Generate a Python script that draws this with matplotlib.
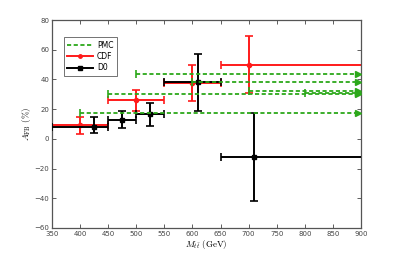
import matplotlib
matplotlib.use("Agg")
import matplotlib.pyplot as plt
from matplotlib.lines import Line2D

# CDF data
cdf_x = [400, 500, 600, 700]
cdf_y = [9.3, 26.0, 37.5, 50.0]
cdf_yerr_lo = [5.8, 7.0, 12.0, 19.4]
cdf_yerr_hi = [5.2, 7.0, 12.0, 19.4]
cdf_xlo = [50, 50, 50, 50]
cdf_xhi = [50, 50, 50, 250]

# D0 data
d0_x = [425, 475, 525, 610, 710]
d0_y = [8.2, 13.0, 16.6, 38.0, -12.3]
d0_yerr_lo = [4.0, 5.4, 7.8, 19.4, 29.8]
d0_yerr_hi = [6.6, 5.8, 7.8, 19.4, 29.8]
d0_xlo = [75, 25, 25, 60, 60]
d0_xhi = [25, 25, 25, 40, 240]

# PMC lower-limit lines (start mass, value)
pmc_start = [400, 450, 500, 600, 700, 800]
pmc_y = [17.5, 29.9, 43.6, 38.2, 31.9, 30.8]

red = '#ff1a1a'
green = '#2ca81a'

plt.rcParams['mathtext.fontset'] = 'cm'
fig = plt.figure(figsize=(3.99, 2.57), dpi=100)
ax = fig.add_axes([0.130, 0.113, 0.775, 0.809])

ax.errorbar(cdf_x, cdf_y, yerr=[cdf_yerr_lo, cdf_yerr_hi], xerr=[cdf_xlo, cdf_xhi],
            fmt='o', color=red, ms=3, lw=1.4, capsize=3, capthick=1.2, zorder=2)
ax.errorbar(d0_x, d0_y, yerr=[d0_yerr_lo, d0_yerr_hi], xerr=[d0_xlo, d0_xhi],
            fmt='s', color='black', ms=3, lw=1.4, capsize=3, capthick=1.2, zorder=3)

dash = (0, (2.3, 1.4))
xmax = 900
for xs, yv in zip(pmc_start, pmc_y):
    ax.plot([xs, xmax - 6], [yv, yv], ls=dash, color=green, lw=1.3, zorder=4)
    ax.plot([xs], [yv], marker='|', ms=6, mew=1.2, color=green, zorder=4)
    ax.plot([xmax - 6], [yv], marker='>', ms=4, color=green, mec=green, zorder=4, clip_on=False)

ax.set_xlim(350, 900)
ax.set_ylim(-60, 80)
ax.set_xticks(range(350, 901, 50))
ax.set_yticks(range(-60, 81, 20))
ax.tick_params(direction='in', top=True, right=True, labelsize=5, length=3,
               width=0.6, colors='#444444', pad=2)
for s in ax.spines.values():
    s.set_linewidth(0.9)
    s.set_color('#555555')

ax.set_xlabel(r'$M_{t\bar{t}}\ \mathrm{(GeV)}$', fontsize=6.5, labelpad=1)
ax.set_ylabel(r'$A_{\rm FB}\ (\%)$', fontsize=6.5, labelpad=1)

handles = [
    Line2D([], [], color=green, ls=dash, lw=1.3),
    Line2D([], [], color=red, lw=1.4, marker='o', ms=2.5),
    Line2D([], [], color='black', lw=1.4, marker='s', ms=2.5),
]
leg = ax.legend(handles, ['PMC', 'CDF', 'D0'], loc='upper left',
                bbox_to_anchor=(0.038, 0.917), fontsize=5.5, frameon=True,
                fancybox=False, handlelength=3.4, borderpad=0.45,
                labelspacing=0.3, handletextpad=0.5, borderaxespad=0)
leg.get_frame().set_edgecolor('#333333')
leg.get_frame().set_linewidth(0.6)

fig.savefig('out.png', dpi=100)
